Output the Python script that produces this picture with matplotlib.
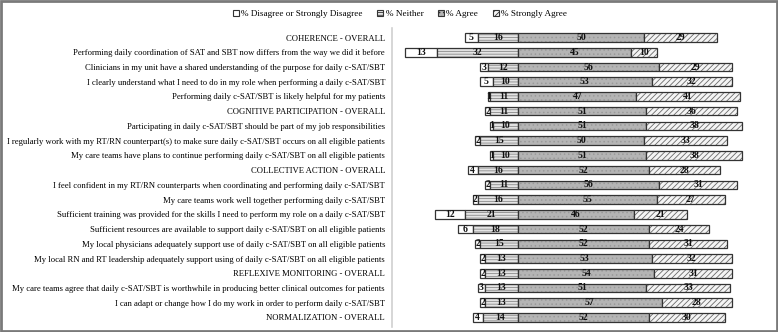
import matplotlib
matplotlib.use("Agg")
import matplotlib.pyplot as plt
from matplotlib.patches import Patch, Rectangle
import numpy as np

plt.rcParams['font.family'] = ['Liberation Serif', 'DejaVu Serif']
plt.rcParams['hatch.linewidth'] = 0.6

categories = [
    "COHERENCE - OVERALL",
    "Performing daily coordination of SAT and SBT now differs from the way we did it before",
    "Clinicians in my unit have a shared understanding of the purpose for daily c-SAT/SBT",
    "I clearly understand what I need to do in my role when performing a daily c-SAT/SBT",
    "Performing daily c-SAT/SBT is likely helpful for my patients",
    "COGNITIVE PARTICIPATION - OVERALL",
    "Participating in daily c-SAT/SBT should be part of my job responsibilities",
    "I regularly work with my RT/RN counterpart(s) to make sure daily c-SAT/SBT occurs on all eligible patients",
    "My care teams have plans to continue performing daily c-SAT/SBT on all eligible patients",
    "COLLECTIVE ACTION - OVERALL",
    "I feel confident in my RT/RN counterparts when coordinating and performing daily c-SAT/SBT",
    "My care teams work well together performing daily c-SAT/SBT",
    "Sufficient training was provided for the skills I need to perform my role on a daily c-SAT/SBT",
    "Sufficient resources are available to support daily c-SAT/SBT on all eligible patients",
    "My local physicians adequately support use of daily c-SAT/SBT on all eligible patients",
    "My local RN and RT leadership adequately support using of daily c-SAT/SBT on all eligible patients",
    "REFLEXIVE MONITORING - OVERALL",
    "My care teams agree that daily c-SAT/SBT is worthwhile in producing better clinical outcomes for patients",
    "I can adapt or change how I do my work in order to perform daily c-SAT/SBT",
    "NORMALIZATION - OVERALL",
]
disagree = [5, 13, 3, 5, 1, 2, 1, 2, 1, 4, 2, 2, 12, 6, 2, 2, 2, 3, 2, 4]
neither = [16, 32, 12, 10, 11, 11, 10, 15, 10, 16, 11, 16, 21, 18, 15, 13, 13, 13, 13, 14]
agree = [50, 45, 56, 53, 47, 51, 51, 50, 51, 52, 56, 55, 46, 52, 52, 53, 54, 51, 57, 52]
strongly = [29, 10, 29, 32, 41, 36, 38, 33, 38, 28, 31, 27, 21, 24, 31, 32, 31, 33, 28, 30]
series_names = ["% Disagree or Strongly Disagree", "% Neither", "% Agree", "% Strongly Agree"]

styles = [
    dict(face="white", hatch=None, hcol="white"),
    dict(face="#e4e4e4", hatch="------", hcol="#8a8a8a"),
    dict(face="#b4b4b4", hatch="....", hcol="#9a9a9a"),
    dict(face="#f4f4f4", hatch="//////", hcol="#6a6a6a"),
]

fig = plt.figure(figsize=(7.78, 3.32), dpi=100)
ax = fig.add_axes([392/778, 1 - 327/332, (775 - 392)/778, (327 - 28)/332])

n = len(categories)
y = np.arange(n)
D = np.array(disagree); N = np.array(neither); A = np.array(agree); S = np.array(strongly)
lefts = [-(D + N), -N, np.zeros(n), A]
widths = [D, N, A, S]
h = 0.58
edge = "#333333"
for k in range(4):
    st = styles[k]
    ax.barh(y, widths[k], left=lefts[k], height=h, color=st["face"],
            hatch=st["hatch"], edgecolor=st["hcol"], linewidth=0)
    ax.barh(y, widths[k], left=lefts[k], height=h, fill=False,
            edgecolor=edge, linewidth=0.9)
    for i in range(n):
        cx = lefts[k][i] + widths[k][i] / 2
        ax.text(cx, y[i], str(widths[k][i]), ha="center", va="center",
                fontsize=7, fontweight="bold", color="#111111")

ax.set_xlim(-50, 102)
ax.set_ylim(n - 0.35, -0.65)
ax.set_yticks(y)
ax.set_yticklabels(categories, fontsize=6.2)
ax.tick_params(axis="y", length=0, pad=5)
ax.set_xticks([])
for s in ["top", "right", "bottom"]:
    ax.spines[s].set_visible(False)
ax.spines["left"].set_color("#d0d0d0")
ax.spines["left"].set_linewidth(1.2)

handles = [Patch(facecolor=styles[k]["face"], edgecolor=edge, hatch=styles[k]["hatch"],
                 linewidth=0.8) for k in range(4)]
fig.legend(handles, series_names, loc="center", bbox_to_anchor=(400/778, 1 - 14/332),
           ncol=4, frameon=False, fontsize=6.6, handlelength=0.65, handleheight=0.65,
           handletextpad=0.25, columnspacing=1.6)

fig.patches.append(Rectangle((0.0015, 0.003), 0.997, 0.994, transform=fig.transFigure,
                             fill=False, edgecolor="#7a7a7a", linewidth=2))
fig.savefig("out.png", dpi=100)
